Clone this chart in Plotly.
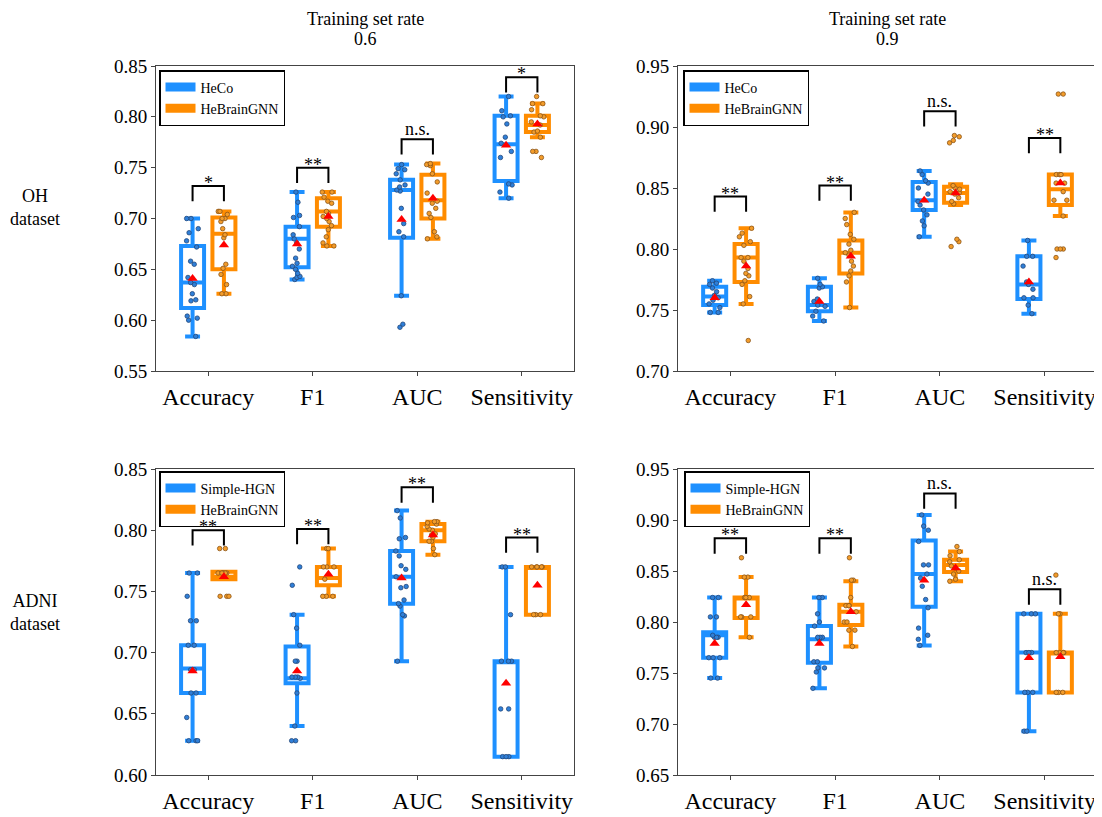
import plotly.graph_objects as go

metrics = ["Accuracy", "F1", "AUC", "Sensitivity"]
row_titles = ["OH<br>dataset", "ADNI<br>dataset"]
col_title = "Training set rate"
col_rates = ["0.6", "0.9"]

# ---------------- OH dataset, training rate 0.6 (HeCo vs HeBrainGNN) ----------------
oh06_base_pts = [
    [0.700, 0.700, 0.690, 0.686, 0.678, 0.672, 0.658, 0.655, 0.642, 0.637, 0.635, 0.626, 0.620, 0.619, 0.604, 0.602, 0.600, 0.584],
    [0.726, 0.716, 0.703, 0.701, 0.692, 0.684, 0.680, 0.676, 0.670, 0.661, 0.656, 0.653, 0.650, 0.646, 0.643, 0.642, 0.640],
    [0.753, 0.749, 0.748, 0.744, 0.738, 0.733, 0.731, 0.728, 0.727, 0.710, 0.695, 0.687, 0.682, 0.624, 0.596, 0.593],
    [0.820, 0.806, 0.801, 0.800, 0.793, 0.780, 0.774, 0.766, 0.760, 0.734, 0.733, 0.726, 0.720],
]
oh06_base_box = dict(lf=[0.584, 0.640, 0.624, 0.720], q1=[0.612, 0.652, 0.681, 0.737],
                     med=[0.637, 0.680, 0.728, 0.773], q3=[0.673, 0.692, 0.738, 0.801],
                     uf=[0.700, 0.726, 0.753, 0.820], mean=[0.641, 0.675, 0.699, 0.772])
oh06_ours_pts = [
    [0.707, 0.707, 0.704, 0.700, 0.700, 0.697, 0.690, 0.684, 0.681, 0.655, 0.651, 0.645, 0.635, 0.626, 0.626],
    [0.726, 0.726, 0.721, 0.717, 0.715, 0.707, 0.705, 0.702, 0.700, 0.697, 0.693, 0.689, 0.682, 0.676, 0.673, 0.673],
    [0.754, 0.753, 0.752, 0.744, 0.736, 0.725, 0.717, 0.715, 0.710, 0.705, 0.701, 0.687, 0.682, 0.680],
    [0.820, 0.813, 0.813, 0.807, 0.801, 0.800, 0.795, 0.792, 0.786, 0.785, 0.780, 0.766, 0.766, 0.760],
]
oh06_ours_box = dict(lf=[0.626, 0.673, 0.680, 0.780], q1=[0.650, 0.692, 0.700, 0.785],
                     med=[0.685, 0.707, 0.718, 0.792], q3=[0.701, 0.720, 0.743, 0.801],
                     uf=[0.707, 0.726, 0.754, 0.813], mean=[0.674, 0.702, 0.720, 0.793])
oh06_sig = ["*", "**", "n.s.", "*"]
oh06_sig_level = [0.732, 0.750, 0.778, 0.839]

# ---------------- OH dataset, training rate 0.9 ----------------
oh09_base_pts = [
    [0.774, 0.772, 0.771, 0.768, 0.765, 0.762, 0.760, 0.758, 0.755, 0.752, 0.748, 0.748],
    [0.776, 0.771, 0.769, 0.768, 0.759, 0.757, 0.754, 0.753, 0.749, 0.745, 0.741],
    [0.864, 0.861, 0.856, 0.854, 0.850, 0.845, 0.839, 0.836, 0.832, 0.828, 0.823, 0.819, 0.810],
    [0.807, 0.794, 0.794, 0.786, 0.773, 0.771, 0.767, 0.760, 0.760, 0.754, 0.747],
]
oh09_base_box = dict(lf=[0.748, 0.741, 0.810, 0.747], q1=[0.754, 0.749, 0.832, 0.759],
                     med=[0.761, 0.754, 0.840, 0.771], q3=[0.769, 0.769, 0.855, 0.794],
                     uf=[0.774, 0.776, 0.864, 0.807], mean=[0.760, 0.757, 0.840, 0.773])
oh09_ours_pts = [
    [0.817, 0.813, 0.810, 0.806, 0.803, 0.793, 0.793, 0.790, 0.784, 0.780, 0.778, 0.774, 0.771, 0.761, 0.755, 0.725],
    [0.830, 0.825, 0.820, 0.812, 0.808, 0.804, 0.799, 0.797, 0.795, 0.790, 0.786, 0.782, 0.778, 0.773, 0.752],
    [0.893, 0.892, 0.889, 0.887, 0.852, 0.850, 0.849, 0.847, 0.846, 0.845, 0.842, 0.839, 0.837, 0.808, 0.806, 0.802],
    [0.927, 0.927, 0.861, 0.861, 0.861, 0.854, 0.854, 0.847, 0.840, 0.840, 0.827, 0.800, 0.800, 0.800, 0.793],
]
oh09_ours_box = dict(lf=[0.755, 0.752, 0.836, 0.827], q1=[0.773, 0.780, 0.838, 0.836],
                     med=[0.793, 0.797, 0.846, 0.849], q3=[0.804, 0.807, 0.851, 0.861],
                     uf=[0.817, 0.830, 0.853, 0.861], mean=[0.786, 0.794, 0.846, 0.854])
oh09_sig = ["**", "**", "n.s.", "**"]
oh09_sig_level = [0.843, 0.852, 0.913, 0.891]

# ---------------- ADNI dataset, training rate 0.6 (Simple-HGN vs HeBrainGNN) ----------------
adni06_base_pts = [
    [0.765, 0.765, 0.746, 0.726, 0.726, 0.706, 0.706, 0.686, 0.686, 0.686, 0.667, 0.667, 0.647, 0.628, 0.628, 0.628],
    [0.770, 0.755, 0.731, 0.720, 0.706, 0.693, 0.693, 0.680, 0.680, 0.680, 0.679, 0.667, 0.640, 0.628, 0.628],
    [0.816, 0.810, 0.794, 0.793, 0.783, 0.779, 0.771, 0.768, 0.762, 0.754, 0.753, 0.743, 0.740, 0.738, 0.731, 0.730, 0.693],
    [0.770, 0.770, 0.731, 0.693, 0.693, 0.693, 0.654, 0.654, 0.615, 0.615, 0.615],
]
adni06_base_box = dict(lf=[0.628, 0.640, 0.693, 0.615], q1=[0.667, 0.675, 0.740, 0.615],
                       med=[0.687, 0.679, 0.762, 0.693], q3=[0.706, 0.705, 0.783, 0.693],
                       uf=[0.765, 0.731, 0.816, 0.770], mean=[0.685, 0.685, 0.761, 0.675])
adni06_ours_pts = [
    [0.785, 0.785, 0.765, 0.765, 0.765, 0.765, 0.765, 0.765, 0.746, 0.746, 0.746],
    [0.785, 0.785, 0.770, 0.770, 0.770, 0.760, 0.746, 0.746, 0.746],
    [0.807, 0.807, 0.806, 0.805, 0.803, 0.801, 0.800, 0.797, 0.796, 0.794, 0.791, 0.791, 0.785, 0.780],
    [0.770, 0.770, 0.770, 0.770, 0.770, 0.731, 0.731, 0.731],
]
adni06_ours_box = dict(lf=[0.760, 0.746, 0.780, 0.731], q1=[0.760, 0.755, 0.791, 0.731],
                       med=[0.762, 0.761, 0.800, 0.770], q3=[0.766, 0.770, 0.805, 0.770],
                       uf=[0.766, 0.785, 0.807, 0.770], mean=[0.762, 0.764, 0.796, 0.755])
adni06_sig = ["**", "**", "**", "**"]
adni06_sig_level = [0.800, 0.801, 0.835, 0.794]

# ---------------- ADNI dataset, training rate 0.9 ----------------
adni09_base_pts = [
    [0.824, 0.824, 0.805, 0.805, 0.787, 0.785, 0.785, 0.785, 0.765, 0.765, 0.765, 0.745, 0.745],
    [0.824, 0.824, 0.808, 0.800, 0.796, 0.785, 0.785, 0.785, 0.783, 0.761, 0.761, 0.755, 0.755, 0.751, 0.735],
    [0.905, 0.894, 0.890, 0.879, 0.856, 0.856, 0.847, 0.843, 0.835, 0.822, 0.814, 0.794, 0.787, 0.783, 0.777],
    [0.808, 0.808, 0.808, 0.770, 0.770, 0.770, 0.731, 0.731, 0.731, 0.693, 0.693],
]
adni09_base_box = dict(lf=[0.745, 0.735, 0.777, 0.693], q1=[0.765, 0.760, 0.815, 0.731],
                       med=[0.787, 0.783, 0.847, 0.770], q3=[0.790, 0.796, 0.880, 0.808],
                       uf=[0.824, 0.824, 0.905, 0.808], mean=[0.779, 0.779, 0.841, 0.765])
adni09_ours_pts = [
    [0.863, 0.844, 0.844, 0.824, 0.824, 0.824, 0.805, 0.805, 0.805, 0.785],
    [0.863, 0.841, 0.841, 0.824, 0.816, 0.816, 0.816, 0.810, 0.800, 0.800, 0.792, 0.792, 0.776],
    [0.874, 0.869, 0.865, 0.861, 0.859, 0.855, 0.853, 0.850, 0.847, 0.842, 0.840],
    [0.846, 0.808, 0.808, 0.770, 0.770, 0.770, 0.770, 0.731, 0.731, 0.731],
]
adni09_ours_box = dict(lf=[0.785, 0.776, 0.840, 0.731], q1=[0.804, 0.797, 0.849, 0.731],
                       med=[0.824, 0.810, 0.856, 0.770], q3=[0.824, 0.817, 0.861, 0.770],
                       uf=[0.844, 0.840, 0.869, 0.808], mean=[0.817, 0.810, 0.853, 0.766])
adni09_sig = ["**", "**", "n.s.", "n.s."]
adni09_sig_level = [0.882, 0.882, 0.926, 0.832]

y_ranges = [[0.55, 0.85], [0.70, 0.95], [0.60, 0.85], [0.65, 0.95]]
baseline_names = ["HeCo", "HeCo", "Simple-HGN", "Simple-HGN"]
ours_name = "HeBrainGNN"

panels = [
    (oh06_base_pts, oh06_base_box, oh06_ours_pts, oh06_ours_box, oh06_sig, oh06_sig_level),
    (oh09_base_pts, oh09_base_box, oh09_ours_pts, oh09_ours_box, oh09_sig, oh09_sig_level),
    (adni06_base_pts, adni06_base_box, adni06_ours_pts, adni06_ours_box, adni06_sig, adni06_sig_level),
    (adni09_base_pts, adni09_base_box, adni09_ours_pts, adni09_ours_box, adni09_sig, adni09_sig_level),
]

# ---------------- styling / layout ----------------
W, H = 1102, 817          # target picture
OX, OY = 8, 8             # page body margin
FW, FH = W - OX, H - OY   # figure size
BLUE = "#1E90FF"
ORANGE = "#FF8C00"
FONT = "Liberation Serif"
OFFSET = 0.15
BOXW = 0.22


def px(X):
    return (X - OX) / FW


def py(Y):
    return 1 - (Y - OY) / FH


x_dom = [[px(156), px(574)], [px(678), px(1097)]]
y_dom = [[py(371), py(66)], [py(775), py(469)]]
legend_pos = [(159, 70), (683, 70), (159, 471), (684, 471)]

fig = go.Figure()
shapes, annotations = [], []
layout = dict(
    width=FW, height=FH, autosize=False,
    margin=dict(l=0, r=0, t=0, b=0, pad=0),
    paper_bgcolor="white", plot_bgcolor="white",
    font=dict(family=FONT, color="black", size=18),
    showlegend=True,
)

for p, (bpts, bbox, opts, obox, sig, siglev) in enumerate(panels):
    r, c = divmod(p, 2)
    n = "" if p == 0 else str(p + 1)
    xa, ya = "x" + n, "y" + n
    leg = "legend" + n
    idx = list(range(len(metrics)))
    xb = [i - OFFSET for i in idx]
    xo = [i + OFFSET for i in idx]

    for xs, pts, box, col, ptc, edge in [
        (xb, bpts, bbox, BLUE, "#2F7FD8", "#23477a"),
        (xo, opts, obox, ORANGE, "#F39C2A", "#8a5418"),
    ]:
        fig.add_trace(go.Box(
            x=xs, y=pts, q1=box["q1"], median=box["med"], q3=box["q3"],
            lowerfence=box["lf"], upperfence=box["uf"],
            boxpoints="all", jitter=0.6, pointpos=0,
            width=BOXW, whiskerwidth=0.65,
            line=dict(color=col, width=4), fillcolor="white",
            marker=dict(size=4.5, color=ptc, line=dict(color=edge, width=0.8)),
            showlegend=False, xaxis=xa, yaxis=ya, hoverinfo="skip",
        ))
        fig.add_trace(go.Scatter(
            x=xs, y=box["mean"], mode="markers",
            marker=dict(symbol="triangle-up", size=9, color="red"),
            showlegend=False, xaxis=xa, yaxis=ya, hoverinfo="skip",
        ))

    # legend entries
    for name, col in [(baseline_names[p], BLUE), (ours_name, ORANGE)]:
        fig.add_trace(go.Scatter(
            x=[None], y=[None], mode="lines", name=name,
            line=dict(color=col, width=9), legend=leg,
            xaxis=xa, yaxis=ya,
        ))
    lx, ly = legend_pos[p]
    layout[leg] = dict(
        x=px(lx), y=py(ly), xanchor="left", yanchor="top",
        bgcolor="white", bordercolor="black", borderwidth=1.5,
        font=dict(family=FONT, size=14, color="black"),
        tracegroupgap=0, itemwidth=30,
    )

    # significance brackets
    yr = y_ranges[p]
    tick = 0.05 * (yr[1] - yr[0])
    for i in idx:
        yt = siglev[i]
        yb = yt - tick
        shapes.append(dict(
            type="path", xref=xa, yref=ya,
            path=f"M {xb[i]},{yb} L {xb[i]},{yt} L {xo[i]},{yt} L {xo[i]},{yb}",
            line=dict(color="black", width=2),
        ))
        is_star = sig[i].startswith("*")
        annotations.append(dict(
            x=(xb[i] + xo[i]) / 2, y=yt, xref=xa, yref=ya,
            text=sig[i], showarrow=False, yanchor="bottom",
            yshift=-9 if is_star else -2,
            font=dict(family=FONT, size=18, color="black"),
        ))

    axis_common = dict(showline=True, linecolor="#444", linewidth=1, mirror=True,
                       ticks="outside", ticklen=4, tickcolor="#444", showgrid=False,
                       zeroline=False, automargin=False)
    layout["xaxis" + n] = dict(
        domain=x_dom[c], anchor=ya, range=[-0.5, len(metrics) - 0.5],
        tickmode="array", tickvals=idx, ticktext=metrics,
        tickfont=dict(family=FONT, size=24, color="black"), **axis_common)
    layout["yaxis" + n] = dict(
        domain=y_dom[r], anchor=xa, range=yr, dtick=0.05, tick0=0,
        tickformat=".2f", tickfont=dict(family=FONT, size=19, color="black"),
        **axis_common)

# column titles (two lines) and row titles
for c, rate in enumerate(col_rates):
    xc = (x_dom[c][0] + x_dom[c][1]) / 2
    for txt, yc in [(col_title, 19), (rate, 39)]:
        annotations.append(dict(
            x=xc, y=py(yc), xref="paper", yref="paper",
            text=txt, showarrow=False, xanchor="center", yanchor="middle",
            font=dict(family=FONT, size=18, color="black"),
        ))
for r, (t, yc) in enumerate(zip(row_titles, [207, 612])):
    annotations.append(dict(
        x=px(35), y=py(yc), xref="paper", yref="paper",
        text=t, showarrow=False, xanchor="center", yanchor="middle",
        font=dict(family=FONT, size=18, color="black"),
    ))

layout["shapes"] = shapes
layout["annotations"] = annotations
fig.update_layout(**layout)
fig.write_html("out.html")
